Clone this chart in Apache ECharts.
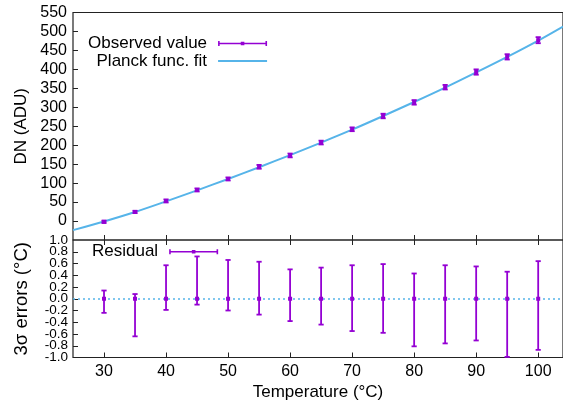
<!DOCTYPE html>
<html>
<head>
<meta charset="utf-8">
<script src="https://cdn.jsdelivr.net/npm/echarts@6/dist/echarts.min.js"></script>
<style>
  html, body { margin: 0; padding: 0; background: #fff; }
  #chart { width: 563px; height: 407px; }
</style>
</head>
<body>
<div id="chart"></div>
<script>
// Blackbody calibration: measured DN vs temperature, Planck fit and residuals.
const temperatures = [30, 35, 40, 45, 50, 55, 60, 65, 70, 75, 80, 85, 90, 95, 100];
const observedDN   = [-2, 24, 53, 82, 111, 143, 173, 207, 242, 277, 313, 353, 393, 433, 477];
const observedErr  = [3, 3, 4, 4, 4, 5, 5, 5, 5, 6, 6, 6, 7, 7, 8];

const fitTemperatures = [25, 30, 35, 40, 45, 50, 55, 60, 65, 70, 75, 80, 85, 90, 95, 100, 104];
const fitDN           = [-24, -1, 24, 52, 81, 111, 142, 174, 207, 241, 277, 314, 352, 392, 433, 476, 513];

const residual      = [0, 0, 0, 0, 0, 0, 0, 0, 0, 0, 0, 0, 0, 0, 0];
const residualUpper = [0.14, 0.08, 0.57, 0.72, 0.66, 0.63, 0.50, 0.53, 0.57, 0.59, 0.43, 0.57, 0.55, 0.46, 0.64];
const residualLower = [-0.24, -0.64, -0.19, -0.10, -0.20, -0.27, -0.38, -0.44, -0.55, -0.58, -0.81, -0.76, -0.71, -0.99, -0.87];

const temperatureTicks = [30, 40, 50, 60, 70, 80, 90, 100];

const PURPLE = '#9400d3';
const SKY = '#56b4e9';
const FONT = 'Liberation Sans, Arial, Helvetica, sans-serif';

// legend glyphs (49 x 5 box): error bar with end caps and centre dot; plain thin line
const ERRBAR_ICON = 'path://M0,1.7H49V3.3H0Z M0,0H1.6V5H0Z M47.4,0H49V5H47.4Z M22.7,0.8H26.3V4.2H22.7Z';
const LINE_ICON = 'path://M0,0H0.01V0.01H0Z M0,1.5H49V3.5H0Z M48.99,4.99H49V5H48.99Z';

const observedData = temperatures.map((t, i) => [t, observedDN[i], observedDN[i] - observedErr[i], observedDN[i] + observedErr[i]]);
const fitData = fitTemperatures.map((t, i) => [t, fitDN[i]]);
const residualData = temperatures.map((t, i) => [t, residual[i], residualLower[i], residualUpper[i]]);

function errorBar(params, api) {
  const x = api.value(0);
  const c = api.coord([x, api.value(1)]);
  const lo = api.coord([x, api.value(2)]);
  const hi = api.coord([x, api.value(3)]);
  const cap = 2.6;
  const st = { stroke: PURPLE, lineWidth: 1.8 };
  return {
    type: 'group',
    children: [
      { type: 'line', shape: { x1: c[0], y1: hi[1], x2: c[0], y2: lo[1] }, style: st },
      { type: 'line', shape: { x1: c[0] - cap, y1: hi[1], x2: c[0] + cap, y2: hi[1] }, style: st },
      { type: 'line', shape: { x1: c[0] - cap, y1: lo[1], x2: c[0] + cap, y2: lo[1] }, style: st },
      { type: 'rect', shape: { x: c[0] - 2, y: c[1] - 2, width: 4, height: 4 }, style: { fill: PURPLE } }
    ]
  };
}

const tickStyle = { show: true, inside: true, length: 5, lineStyle: { color: '#222', width: 1 } };
const labelStyle = { color: '#000', fontFamily: FONT };
const noLine = { show: false, onZero: false };
const errLabelFont = { fontSize: 13.5, margin: 5 };
const isEnd = v => Math.abs(Math.abs(v) - 1) < 1e-9;

const chart = echarts.init(document.getElementById('chart'), null, { renderer: 'canvas' });

chart.setOption({
  animation: false,
  backgroundColor: '#fff',
  grid: [
    { left: 73, top: 12.5, width: 490, height: 227.5, show: true, borderColor: '#222', borderWidth: 1.2,
      backgroundColor: 'transparent', outerBoundsMode: 'none' },
    { left: 73, top: 240, width: 490, height: 117.5, show: true, borderColor: '#222', borderWidth: 1.2,
      backgroundColor: 'transparent', outerBoundsMode: 'none' }
  ],
  xAxis: [
    { type: 'value', gridIndex: 0, min: 25, max: 104, position: 'bottom',
      axisLine: noLine, splitLine: { show: false },
      axisTick: Object.assign({ customValues: temperatureTicks }, tickStyle),
      axisLabel: { show: false } },
    { type: 'value', gridIndex: 1, min: 25, max: 104, position: 'bottom',
      axisLine: noLine, splitLine: { show: false },
      axisTick: Object.assign({ customValues: temperatureTicks }, tickStyle),
      axisLabel: Object.assign({ customValues: temperatureTicks, fontSize: 16, margin: 6 }, labelStyle),
      name: 'Temperature (°C)', nameLocation: 'middle', nameGap: 26,
      nameTextStyle: { fontSize: 17, color: '#000', fontFamily: FONT } },
    { type: 'value', gridIndex: 1, min: 25, max: 104, position: 'top',
      axisLine: noLine, splitLine: { show: false },
      axisTick: Object.assign({ customValues: temperatureTicks }, tickStyle),
      axisLabel: { show: false } }
  ],
  yAxis: [
    { type: 'value', gridIndex: 0, min: -50, max: 550, interval: 50,
      axisLine: noLine, splitLine: { show: false },
      axisTick: tickStyle,
      axisLabel: Object.assign({ fontSize: 16, margin: 6, showMinLabel: false, showMaxLabel: true }, labelStyle),
      name: 'DN (ADU)', nameLocation: 'middle', nameGap: 41,
      nameTextStyle: { fontSize: 17, color: '#000', fontFamily: FONT } },
    // residual axis: inner labels -0.8 .. 0.8
    { type: 'value', gridIndex: 1, min: -1, max: 1, interval: 0.2, position: 'left',
      axisLine: noLine, splitLine: { show: false },
      axisTick: tickStyle,
      axisLabel: Object.assign({ showMinLabel: false, showMaxLabel: false,
        formatter: v => v.toFixed(1) }, errLabelFont, labelStyle),
      name: '3σ errors (°C)', nameLocation: 'middle', nameGap: 42,
      nameTextStyle: { fontSize: 18.5, color: '#000', fontFamily: FONT } },
    // same scale, only the end labels -1.0 and 1.0
    { type: 'value', gridIndex: 1, min: -1, max: 1, interval: 0.2, position: 'left', offset: 0,
      axisLine: noLine, splitLine: { show: false }, axisTick: { show: false },
      axisLabel: Object.assign({ showMinLabel: true, showMaxLabel: true,
        formatter: v => (isEnd(v) ? v.toFixed(1) : '') }, errLabelFont, labelStyle) }
  ],
  legend: [
    { orient: 'vertical', align: 'right', left: 88, top: 35, padding: 0, itemGap: 0.4,
      itemWidth: 49, itemHeight: 5, selectedMode: false,
      textStyle: { fontSize: 17, color: '#000', fontFamily: FONT, padding: [0, 6, 0, 0] },
      data: [ { name: 'Observed value', icon: ERRBAR_ICON }, { name: 'Planck func. fit', icon: LINE_ICON } ] },
    { orient: 'vertical', align: 'right', left: 92, top: 243.2, padding: 0,
      itemWidth: 49, itemHeight: 5, selectedMode: false,
      textStyle: { fontSize: 17, color: '#000', fontFamily: FONT, padding: [0, 6, 0, 0] },
      data: [ { name: 'Residual', icon: ERRBAR_ICON } ] }
  ],
  series: [
    { name: 'Planck func. fit', type: 'line', xAxisIndex: 0, yAxisIndex: 0,
      data: fitData, smooth: 0.3, symbol: 'none', z: 2,
      lineStyle: { color: SKY, width: 2 }, itemStyle: { color: SKY } },
    { name: 'Observed value', type: 'custom', xAxisIndex: 0, yAxisIndex: 0,
      data: observedData, renderItem: errorBar, encode: { x: 0, y: [1, 2, 3] }, z: 3,
      itemStyle: { color: PURPLE } },
    { name: 'Residual', type: 'custom', xAxisIndex: 1, yAxisIndex: 1,
      data: residualData, renderItem: errorBar, encode: { x: 0, y: [1, 2, 3] }, z: 3,
      itemStyle: { color: PURPLE },
      markLine: { silent: true, symbol: 'none', label: { show: false }, z: 1,
        lineStyle: { color: SKY, type: [2, 3], width: 1.5 },
        data: [ { yAxis: 0 } ] } }
  ]
});
</script>
</body>
</html>
